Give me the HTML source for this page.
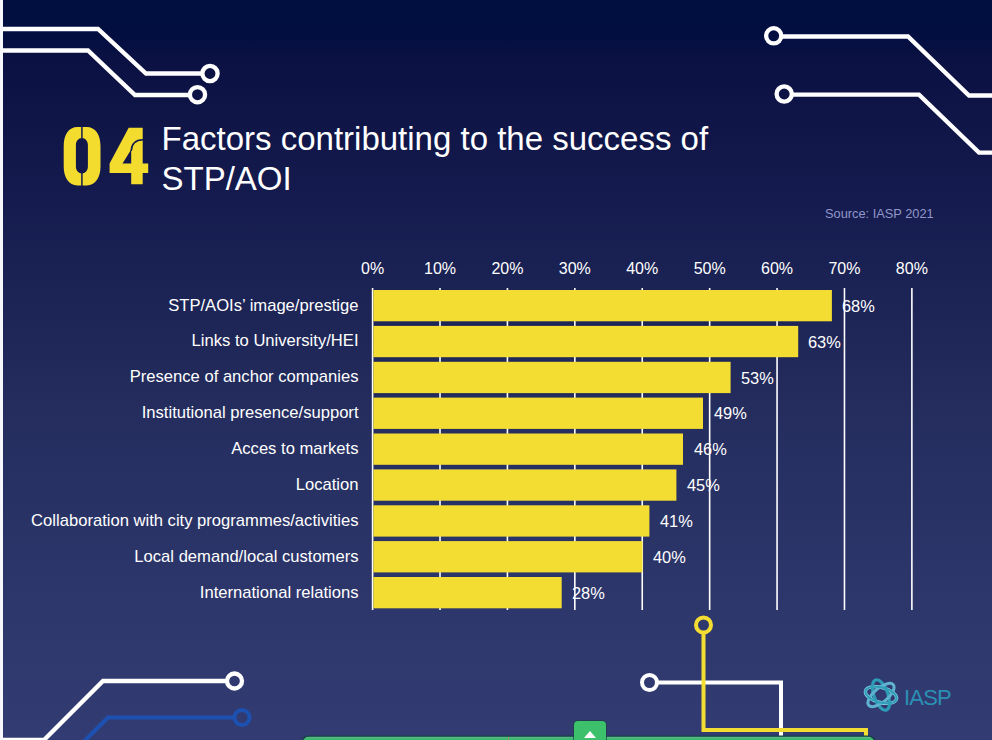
<!DOCTYPE html>
<html><head><meta charset="utf-8">
<style>
html,body{margin:0;padding:0;}
body{width:992px;height:740px;overflow:hidden;position:relative;background:#f6f8fe;font-family:"Liberation Sans",sans-serif;}
#bg{position:absolute;left:3px;top:0;width:989px;height:740px;background:linear-gradient(to bottom,rgb(0,14,64) 0px,rgb(1,14,64) 30px,rgb(12,17,67) 62px,rgb(21,27,78) 200px,rgb(36,45,94) 410px,rgb(47,56,109) 630px,rgb(51,60,114) 740px);}
svg{position:absolute;left:0;top:0;}
.t{position:absolute;color:#fff;white-space:nowrap;}
#title{left:161.5px;top:118.8px;font-size:33px;line-height:39.8px;}
#src{left:825px;top:206px;font-size:12.8px;color:#9297ca;}
#iasp{left:904px;top:685px;font-size:22px;line-height:26px;color:#2a90b3;letter-spacing:-0.8px;}
.ax{position:absolute;top:259.5px;font-size:16px;color:#fff;width:60px;text-align:center;line-height:18px;}
.lb{position:absolute;right:633.5px;font-size:16.6px;color:#fff;line-height:20px;text-align:right;white-space:nowrap;}
.vl{position:absolute;font-size:16.4px;margin-top:0.4px;color:#fff;line-height:20px;white-space:nowrap;}
</style></head><body>
<div id="bg"></div>
<svg width="992" height="740" viewBox="0 0 992 740">
  <!-- top-left circuit -->
  <g fill="none" stroke="#fff" stroke-width="4.3">
    <polyline points="3,29 98,29 146,73.5 202,73.5"/>
    <circle cx="210" cy="73.5" r="7.6"/>
    <polyline points="3,50.5 88,50.5 135,95 190,95"/>
    <circle cx="197.5" cy="94.7" r="7.6"/>
    <!-- top-right -->
    <circle cx="773.7" cy="35.8" r="7.6"/>
    <polyline points="781,36.5 908,36.5 969,95.5 992,95.5"/>
    <circle cx="784.2" cy="94" r="7.6"/>
    <polyline points="791.5,94.6 919,94.6 979,152.6 992,152.6"/>
  <!-- bottom-left -->
    <circle cx="234.5" cy="681" r="7.5"/>
    <polyline points="227,681 103,681 44,740 3,740"/>
  </g>
  <g fill="none" stroke="#1c51b2" stroke-width="4">
    <circle cx="242" cy="717.5" r="7.5"/>
    <polyline points="234.5,717.5 108,717.5 84.5,741"/>
  </g>
  <!-- gridlines -->
  <g stroke="#fff" stroke-width="1.6">
    <line x1="372.60" y1="288" x2="372.60" y2="610"/>
    <line x1="440.01" y1="288" x2="440.01" y2="610"/>
    <line x1="507.42" y1="288" x2="507.42" y2="610"/>
    <line x1="574.83" y1="288" x2="574.83" y2="610"/>
    <line x1="642.24" y1="288" x2="642.24" y2="610"/>
    <line x1="709.65" y1="288" x2="709.65" y2="610"/>
    <line x1="777.06" y1="288" x2="777.06" y2="610"/>
    <line x1="844.47" y1="288" x2="844.47" y2="610"/>
    <line x1="911.88" y1="288" x2="911.88" y2="610"/>
  </g>
  <!-- bars -->
  <g fill="#f4dd32">
    <rect x="373.4" y="290.0" width="458.5" height="31.3"/>
    <rect x="373.4" y="325.9" width="424.8" height="31.3"/>
    <rect x="373.4" y="361.8" width="357.2" height="31.3"/>
    <rect x="373.4" y="397.6" width="329.6" height="31.3"/>
    <rect x="373.4" y="433.5" width="309.6" height="31.3"/>
    <rect x="373.4" y="469.4" width="303.0" height="31.3"/>
    <rect x="373.4" y="505.3" width="276.0" height="31.3"/>
    <rect x="373.4" y="541.1" width="269.1" height="31.3"/>
    <rect x="373.4" y="577.0" width="188.3" height="31.3"/>
  </g>
  <!-- bottom-middle circuit -->
  <g fill="none" stroke="#fff" stroke-width="4">
    <circle cx="649.5" cy="682.5" r="7.5"/>
    <polyline points="657,682.5 781,682.5 781,741"/>
  </g>
  <g fill="none" stroke="#f4dd32" stroke-width="4">
    <circle cx="703.5" cy="625" r="7.5"/>
    <polyline points="703.5,632.5 703.5,730 866,730 866,741"/>
  </g>
  <!-- 04 -->
  <g fill="#f4dc2f">
    <path fill-rule="evenodd" d="M77.5,127.1 L86.7,127.1 C95.5,127.1 100.5,135 100.5,146 L100.5,166.5 C100.5,177.5 95.5,185.4 86.7,185.4 L77.5,185.4 C68.7,185.4 63.7,177.5 63.7,166.5 L63.7,146 C63.7,135 68.7,127.1 77.5,127.1 Z M81.9,138.1 C78.6,138.1 75.9,141 75.9,145 L75.9,166.6 C75.9,170.6 78.6,173.5 81.9,173.5 C85.2,173.5 87.9,170.6 87.9,166.6 L87.9,145 C87.9,141 85.2,138.1 81.9,138.1 Z"/>
    <path fill-rule="evenodd" d="M128.7,127.7 L142.7,127.7 L142.7,163.4 L148.2,163.4 L148.2,173 L142.7,173 L142.7,184.3 L131.2,184.3 L131.2,173 L109.6,173 L109.6,163.4 Z M122.5,163.4 L131.2,163.4 L131.2,149.6 Z"/>
  </g>
  <g fill="none" stroke="#101a52" stroke-width="1.5">
    <line x1="81.9" y1="126" x2="81.9" y2="139"/>
    <line x1="81.9" y1="172.5" x2="81.9" y2="186"/>
    <path d="M131.2,151 C131.5,144 135,140 143,139.8"/>
  </g>
  <!-- IASP logo -->
  <g fill="none" transform="translate(881,695)">
    <ellipse rx="16" ry="7.5" stroke="#86c9e0" stroke-width="3.4" transform="rotate(15)"/>
    <ellipse rx="16" ry="7" stroke="#2e9cb6" stroke-width="3.2" transform="rotate(70)"/>
    <ellipse rx="16" ry="7" stroke="#5fb3cf" stroke-width="3" transform="rotate(-40)"/>
    <ellipse rx="16" ry="7.5" stroke="#2f9fb8" stroke-width="2" transform="rotate(15)"/>
  </g>
  <!-- green bar -->
  <rect x="302" y="735.6" width="573" height="10" rx="6.5" fill="#173f45"/>
  <rect x="303" y="736.8" width="571" height="10" rx="6" fill="#3cba6c"/>
  <rect x="306" y="737" width="565" height="1.3" fill="#58b58a"/>
  <rect x="573.3" y="720.3" width="33.4" height="23" rx="4.5" fill="#1c3d4a"/>
  <rect x="574" y="721" width="32" height="22" rx="4" fill="#3cc06b"/>
  <polygon points="584,738 590,731 596,738" fill="#fff"/>
  <line x1="508.5" y1="737" x2="508.5" y2="740" stroke="#c8843e" stroke-width="1" opacity="0.7"/>
</svg>
<div class="t" id="title">Factors contributing to the success of<br>STP/AOI</div>
<div class="t" id="iasp">IASP</div>
<div class="t" id="src">Source: IASP 2021</div>
<div class="ax" style="left:342.60px">0%</div>
<div class="ax" style="left:410.01px">10%</div>
<div class="ax" style="left:477.42px">20%</div>
<div class="ax" style="left:544.83px">30%</div>
<div class="ax" style="left:612.24px">40%</div>
<div class="ax" style="left:679.65px">50%</div>
<div class="ax" style="left:747.06px">60%</div>
<div class="ax" style="left:814.47px">70%</div>
<div class="ax" style="left:881.88px">80%</div>

<div class="lb" style="top:295.5px">STP/AOIs’ image/prestige</div>
<div class="lb" style="top:331.4px">Links to University/HEI</div>
<div class="lb" style="top:367.3px">Presence of anchor companies</div>
<div class="lb" style="top:403.1px">Institutional presence/support</div>
<div class="lb" style="top:439px">Acces to markets</div>
<div class="lb" style="top:474.9px">Location</div>
<div class="lb" style="top:510.8px">Collaboration with city programmes/activities</div>
<div class="lb" style="top:546.6px">Local demand/local customers</div>
<div class="lb" style="top:582.5px">International relations</div>

<div class="vl" style="left:842px;top:295.5px">68%</div>
<div class="vl" style="left:808px;top:331.4px">63%</div>
<div class="vl" style="left:741px;top:367.3px">53%</div>
<div class="vl" style="left:714px;top:403.1px">49%</div>
<div class="vl" style="left:694px;top:439px">46%</div>
<div class="vl" style="left:687px;top:474.9px">45%</div>
<div class="vl" style="left:660px;top:510.8px">41%</div>
<div class="vl" style="left:653px;top:546.6px">40%</div>
<div class="vl" style="left:572px;top:582.5px">28%</div>
</body></html>
